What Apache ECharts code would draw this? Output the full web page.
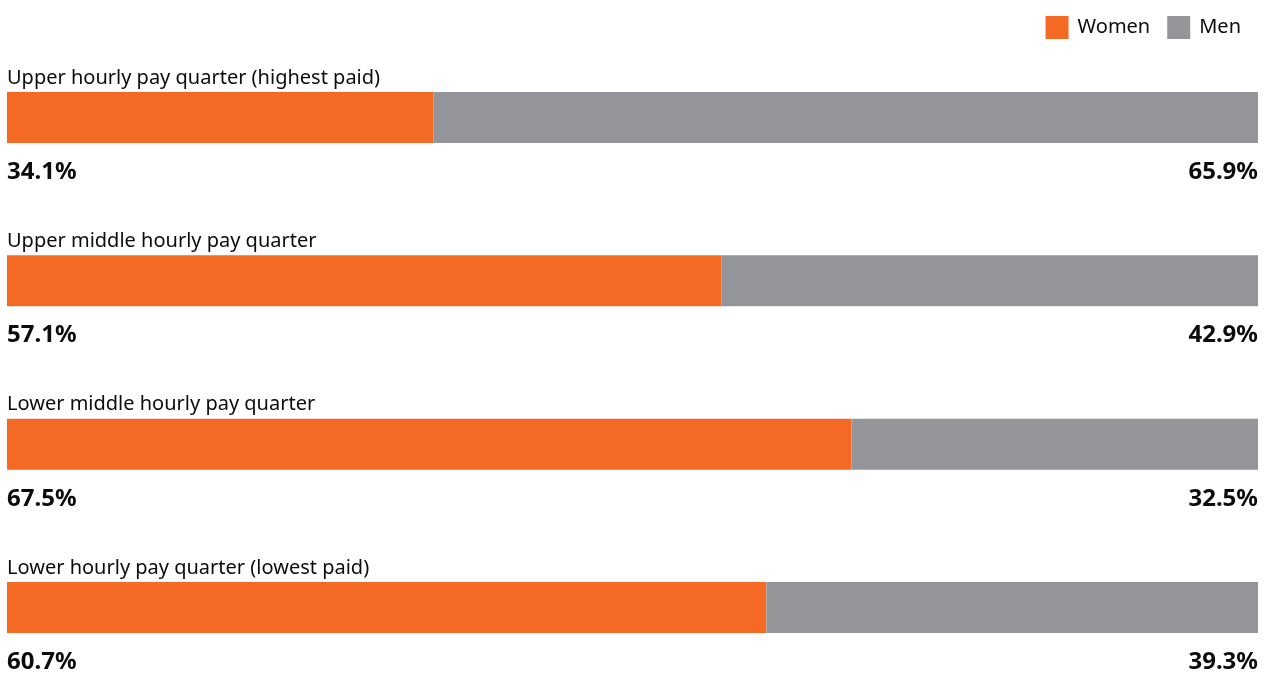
<!DOCTYPE html>
<html>
<head>
<meta charset="utf-8">
<script src="https://cdn.jsdelivr.net/npm/echarts@6/dist/echarts.min.js"></script>
<style>
  html, body { margin: 0; padding: 0; background: #ffffff; }
  #chart { width: 1268px; height: 676px; }
</style>
</head>
<body>
<div id="chart"></div>
<script>
// pay quarters, top to bottom
const quarters = [
  'Upper hourly pay quarter (highest paid)',
  'Upper middle hourly pay quarter',
  'Lower middle hourly pay quarter',
  'Lower hourly pay quarter (lowest paid)'
];
const women = [34.1, 57.1, 67.5, 60.7];
const men = [65.9, 42.9, 32.5, 39.3];

const chart = echarts.init(document.getElementById('chart'));
const FONT = '"Noto Sans", "Open Sans", sans-serif';

const pctLabel = {
  show: true,
  formatter: p => p.value.toFixed(1) + '%',
  verticalAlign: 'middle',
  fontFamily: FONT,
  fontSize: 24,
  fontWeight: 'bold',
  color: '#0b0c0c'
};

chart.setOption({
  animation: false,
  backgroundColor: '#ffffff',
  legend: {
    right: 22,
    top: 11,
    icon: 'rect',
    itemWidth: 23,
    itemHeight: 23,
    itemGap: 17,
    textStyle: { fontFamily: FONT, fontSize: 20, color: '#0b0c0c', padding: [0, 0, 0, 4] },
    data: ['Women', 'Men']
  },
  // boundaryGap off: first and last bars sit on the grid edges
  grid: { left: 7, right: 10, top: 117.5, bottom: 68.5, containLabel: false },
  xAxis: {
    type: 'value', min: 0, max: 100, show: false
  },
  yAxis: {
    type: 'category',
    data: quarters,
    inverse: true,
    boundaryGap: false,
    axisLine: { show: false },
    axisTick: { show: false },
    splitLine: { show: false },
    axisLabel: {
      inside: true,
      margin: 0,
      verticalAlign: 'middle',
      formatter: v => '{a|' + v + '}\n{b| }',
      rich: {
        a: { fontFamily: FONT, fontSize: 20, color: '#0b0c0c', lineHeight: 24 },
        b: { fontSize: 10, height: 79, lineHeight: 79 }
      }
    },
    z: 10
  },
  series: [
    {
      name: 'Women',
      type: 'bar',
      stack: 'total',
      barWidth: 51,
      itemStyle: { color: '#f46a25' },
      label: Object.assign({}, pctLabel, { position: [0, 80], align: 'left' }),
      data: women
    },
    {
      name: 'Men',
      type: 'bar',
      stack: 'total',
      barWidth: 51,
      itemStyle: { color: '#939598' },
      label: Object.assign({}, pctLabel, { position: ['100%', 80], align: 'right' }),
      data: men
    }
  ]
});
</script>
</body>
</html>
